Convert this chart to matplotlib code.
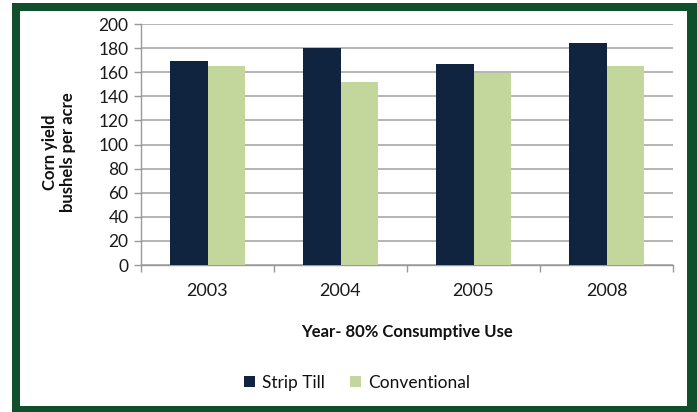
import matplotlib
matplotlib.use("Agg")
import matplotlib.pyplot as plt
from matplotlib.patches import Rectangle
import numpy as np

years = ["2003", "2004", "2005", "2008"]
strip_till = [169, 180, 167, 184]
conventional = [165, 152, 159, 165]
y_ticks = [0, 20, 40, 60, 80, 100, 120, 140, 160, 180, 200]

plt.rcParams['font.family'] = ['Lato', 'DejaVu Sans']

W, H = 697, 412
fig = plt.figure(figsize=(W / 100, H / 100), dpi=100)
fig.patch.set_facecolor("white")

green = "#0f4f2b"
fig.patches.append(Rectangle((12 / W, 0), 685 / W, 409 / H, transform=fig.transFigure,
                             facecolor=green, edgecolor="none", zorder=-2))
fig.patches.append(Rectangle((20 / W, 6 / H), 667 / W, 395 / H, transform=fig.transFigure,
                             facecolor="white", edgecolor="none", zorder=-1))

ax = fig.add_axes([141 / W, 1 - 265 / H, 532 / W, 241 / H])
ax.set_zorder(1)
ax.set_facecolor("none")

x = np.arange(len(years))
bw = 0.28
ax.bar(x - bw / 2, strip_till, width=bw, color="#10233f", label="Strip Till", zorder=3)
ax.bar(x + bw / 2, conventional, width=bw, color="#c3d69b", label="Conventional", zorder=3)

ax.set_xlim(-0.5, len(years) - 0.5)
ax.set_ylim(0, 200)
ax.set_yticks(y_ticks)
ax.set_yticklabels([str(v) for v in y_ticks], fontsize=12.5, color="#1a1a1a")
ax.set_xticks(x)
ax.set_xticklabels(years, fontsize=13, color="#1a1a1a")
ax.tick_params(axis="x", which="major", length=0, pad=13)
ax.set_xticks(np.arange(-0.5, len(years), 1.0), minor=True)
ax.tick_params(axis="x", which="minor", length=5, color="#999999", width=1)
ax.tick_params(axis="y", length=5, color="#999999", width=1, pad=4)

ax.yaxis.grid(True, color="#a0a0a0", linewidth=1.1, zorder=0)
ax.set_axisbelow(True)
for s in ["top", "right"]:
    ax.spines[s].set_visible(False)
for s in ["left", "bottom"]:
    ax.spines[s].set_color("#999999")
    ax.spines[s].set_linewidth(1)

fig.text(59 / W, 1 - 152 / H, "Corn yield\nbushels per acre", rotation=90,
         ha="center", va="center", fontsize=12, fontweight="bold", color="#111111",
         linespacing=1.15, zorder=2)
fig.text(407 / W, 1 - 332 / H, "Year- 80% Consumptive Use", ha="center", va="center",
         fontsize=12, fontweight="bold", color="#111111", zorder=2)

leg = fig.legend(loc="center", bbox_to_anchor=(357 / W, 1 - 383 / H), ncol=2, frameon=False,
                 fontsize=12.5, handlelength=0.6, handleheight=0.6, handletextpad=0.4,
                 columnspacing=1.5)
leg.set_zorder(2)
for t in leg.get_texts():
    t.set_color("#111111")

fig.savefig("out.png", dpi=100)
